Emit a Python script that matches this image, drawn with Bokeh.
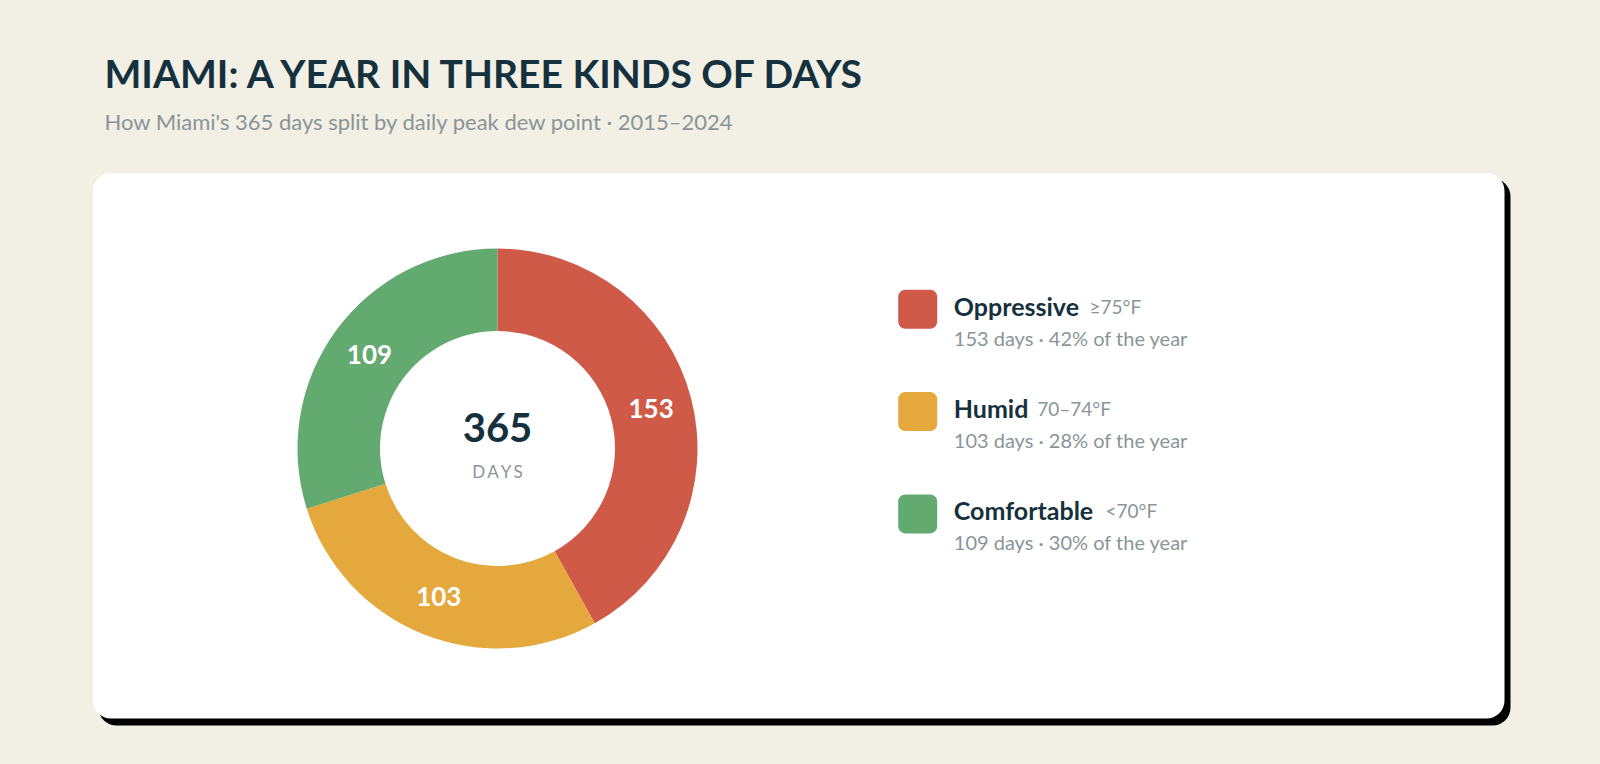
import math

from bokeh.core.properties import value
from bokeh.embed import file_html
from bokeh.models import BoxAnnotation, ColumnDataSource, GlobalInlineStyleSheet, Range1d
from bokeh.plotting import figure
from bokeh.resources import INLINE

# data
categories = ["Oppressive", "Humid", "Comfortable"]
ranges = ["\u226575\u00b0F", "70\u201374\u00b0F", "<70\u00b0F"]
days = [153, 103, 109]
colors = ["#d05a48", "#e5a83c", "#62aa70"]

TITLE = "MIAMI: A YEAR IN THREE KINDS OF DAYS"
SUBTITLE = "How Miami's 365 days split by daily peak dew point \u00b7 2015\u20132024"

BG = "#f2efe4"
INK = "#15313d"
GREY = "#8a9597"
FONT = value("Lato")

W, H = 1584, 748


def py(y):
    # page pixel row -> data y
    return 756 - y


p = figure(
    width=W,
    height=H,
    x_range=Range1d(0, W),
    y_range=Range1d(8, 8 + H),
    x_axis_type=None,
    y_axis_type=None,
    toolbar_location=None,
    output_backend="svg",
    min_border=0,
    background_fill_color=BG,
    border_fill_color=BG,
    outline_line_color=None,
    stylesheets=[GlobalInlineStyleSheet(css=f"body {{ background: {BG}; }}")],
)
p.grid.visible = False

# card + hard shadow
p.add_layout(BoxAnnotation(left=98, right=1510, top=py(178), bottom=py(725), fill_color="black",
                           fill_alpha=1, line_color=None, border_radius=18, level="underlay"))
p.add_layout(BoxAnnotation(left=92.5, right=1504, top=py(172.5), bottom=py(718), fill_color="white",
                           fill_alpha=1, line_color=None, border_radius=18, level="underlay"))

# titles
p.text(x=[104], y=[py(72)], text=[TITLE], text_font=FONT, text_font_style="bold",
       text_font_size="39px", text_color=INK, text_baseline="middle")
p.text(x=[104], y=[py(121)], text=[SUBTITLE], text_font=FONT, text_font_size="22px",
       text_color=GREY, text_baseline="middle")

# donut
cx, cy = 497, py(448)
r_out, r_in = 200, 117.5
total = sum(days)
starts, ends, mids = [], [], []
a = math.pi / 2
for d in days:
    sweep = 2 * math.pi * d / total
    starts.append(a)
    ends.append(a - sweep)
    mids.append(a - sweep / 2)
    a -= sweep

src = ColumnDataSource(dict(start=starts, end=ends, color=colors, days=days,
                            lx=[cx + (r_out + r_in) / 2 * math.cos(m) for m in mids],
                            ly=[cy + (r_out + r_in) / 2 * math.sin(m) for m in mids],
                            label=[str(d) for d in days]))
p.annular_wedge(x=cx, y=cy, inner_radius=r_in, outer_radius=r_out, start_angle="start",
                end_angle="end", direction="clock", fill_color="color", line_color=None, source=src)
p.text(x="lx", y="ly", text="label", source=src, text_font=FONT, text_font_style="bold",
       text_font_size="26px", text_color="white", text_align="center", text_baseline="middle")

p.text(x=[cx], y=[py(427)], text=[str(total)], text_font=FONT, text_font_style="bold",
       text_font_size="40px", text_color=INK, text_align="center", text_baseline="middle")
p.text(x=[cx], y=[py(471.3)], text=["D\u2009A\u2009Y\u2009S"], text_font=FONT, text_font_size="17px",
       text_color=GREY, text_align="center", text_baseline="middle")

# legend
step = 102.3
range_x = [1089, 1036.7, 1105]
for i, (name, rng, d, c) in enumerate(zip(categories, ranges, days, colors)):
    top = 289.3 + i * step
    p.add_layout(BoxAnnotation(left=897.7, right=936.7, top=py(top), bottom=py(top + 39),
                               fill_color=c, fill_alpha=1, line_color=None, border_radius=7))
    pct = round(100 * d / total)
    p.text(x=[953.3], y=[py(305 + i * step)], text=[name], text_font=FONT, text_font_style="bold",
           text_font_size="25px", text_color=INK, text_baseline="middle")
    p.text(x=[range_x[i]], y=[py(305.5 + i * step)], text=[rng], text_font=FONT,
           text_font_size="19px", text_color=GREY, text_baseline="middle")
    p.text(x=[953.3], y=[py(337 + i * step)], text=[f"{d} days \u00b7 {pct}% of the year"],
           text_font=FONT, text_font_size="20px", text_color=GREY, text_baseline="middle")

open("out.html", "w").write(file_html(p, INLINE))
